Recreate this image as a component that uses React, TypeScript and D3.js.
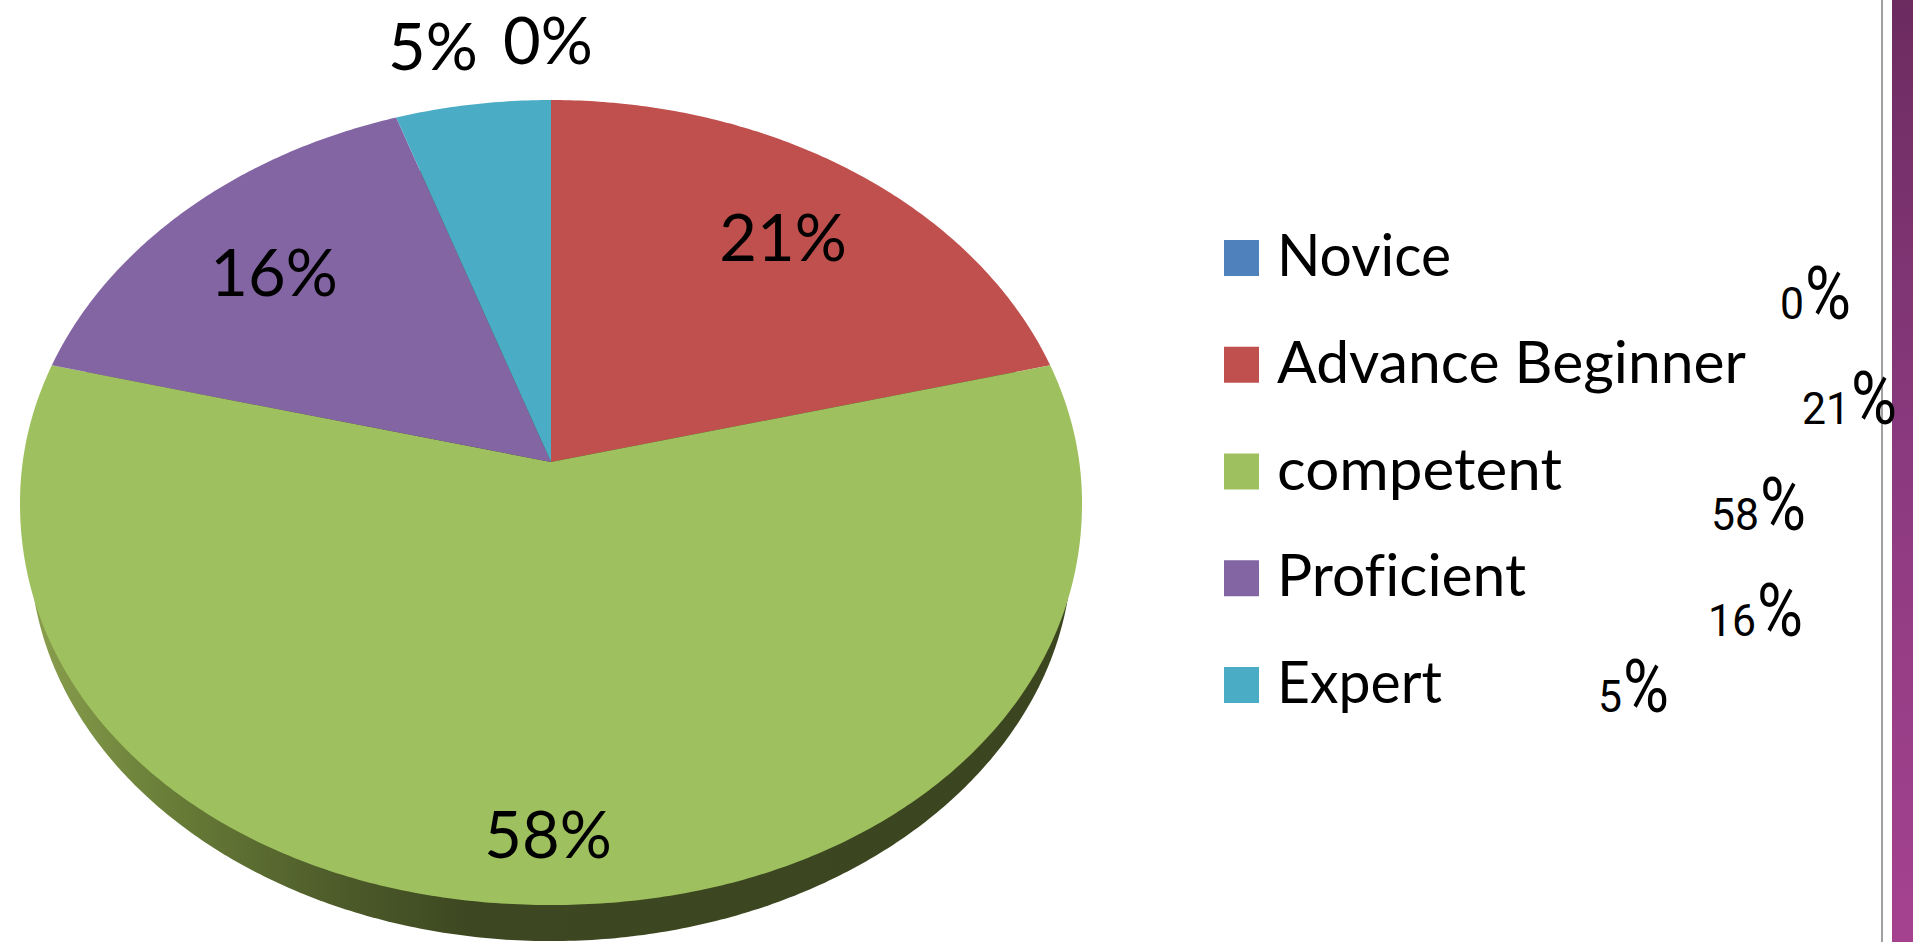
import React from "react";
import * as d3 from "d3";

const categories = ["Novice", "Advance Beginner", "competent", "Proficient", "Expert"];
const shareValues = [0, 21, 58, 15.8, 5.2];
const shareLabels = ["0%", "21%", "58%", "16%", "5%"];
const sliceColors = ["#4f81bd", "#c0504d", "#9fc05e", "#8365a3", "#4bacc6"];

// layout only
const W = 1913, H = 942;
const apex = { x: 551, y: 462 };
const persp = { a: 398.4, b: 528.3, k: -0.1006 };
const outline = { cy: 503, rx: 531, ry: 402, n: 2.05 };
const labelLayout = [
  { x: 548, y: 64 },
  { x: 783, y: 261 },
  { x: 548, y: 858 },
  { x: 274, y: 296 },
  { x: 433, y: 70 },
];
const sideLabelLayout = [
  { x: 1780, y: 319 },
  { x: 1802, y: 424 },
  { x: 1711, y: 530 },
  { x: 1708, y: 636 },
  { x: 1598, y: 712 },
];
const legendWidths = [174, 469, 285, 249, 165];

function project(theta: number, rho = 1): [number, number] {
  const x = Math.sin(theta) * rho, y = -Math.cos(theta) * rho;
  const den = 1 + persp.k * y;
  return [apex.x + (persp.b * x) / den, apex.y + (persp.a * y) / den];
}
// the lower half of the drawn disc is slightly fuller than a true ellipse
function projectTop(theta: number): [number, number] {
  const [px, py] = project(theta);
  if (py <= outline.cy) return [px, py];
  const u = (px - apex.x) / outline.rx, v = (py - outline.cy) / outline.ry;
  const r = Math.pow(Math.pow(Math.abs(u), outline.n) + Math.pow(Math.abs(v), outline.n), 1 / outline.n);
  return [apex.x + (u / r) * outline.rx, outline.cy + (v / r) * outline.ry];
}
function projectRim(theta: number): [number, number] {
  const [px, py] = project(theta);
  return [apex.x + (px - apex.x) * 0.981, 550 + (py - outline.cy) * 0.973];
}

const line = d3.line();
const pieGen = d3.pie<number>().sort(null).startAngle(0).endAngle(2 * Math.PI);
const arcs = pieGen(shareValues);

function slicePath(a0: number, a1: number) {
  const n = Math.max(2, Math.ceil((a1 - a0) / 0.01));
  const pts = d3.range(n + 1).map((i) => projectTop(a0 + ((a1 - a0) * i) / n));
  return line([[apex.x, apex.y], ...pts]) + "Z";
}
const rimPath = line(d3.range(0, 2 * Math.PI, 0.01).map(projectRim)) + "Z";

const legendY = d3.scalePoint<string>().domain(categories).range([258, 685]);

export default function App() {
  return (
    <svg width={W} height={H} viewBox={`0 0 ${W} ${H}`} style={{ position: "fixed", left: 0, top: 0, display: "block", background: "#fff" }}>
      <defs>
        <linearGradient id="rim" gradientUnits="userSpaceOnUse" x1="30" x2="1080" y1="0" y2="0">
          <stop offset="0" stopColor="#8aa04e" />
          <stop offset="0.12" stopColor="#6b8039" />
          <stop offset="0.28" stopColor="#4f5e2b" />
          <stop offset="0.42" stopColor="#3d4721" />
          <stop offset="1" stopColor="#3b4621" />
        </linearGradient>
        <linearGradient id="side" x1="0" x2="0" y1="0" y2="1">
          <stop offset="0" stopColor="#6c2c60" />
          <stop offset="0.5" stopColor="#8c3a80" />
          <stop offset="1" stopColor="#a5428f" />
        </linearGradient>
      </defs>

      <rect x={1892} y={0} width={21} height={H} fill="url(#side)" />
      <rect x={1881} y={0} width={2} height={H} fill="#a0a0a0" />

      <path d={rimPath} fill="url(#rim)" />
      {arcs.map((d, i) =>
        d.endAngle > d.startAngle ? (
          <path key={i} d={slicePath(d.startAngle, d.endAngle)} fill={sliceColors[i]} />
        ) : null
      )}

      <g fontFamily="Lato" fontSize={65} fill="#000" textAnchor="middle">
        {shareLabels.map((t, i) => (
          <text key={i} x={labelLayout[i].x} y={labelLayout[i].y}>{t}</text>
        ))}
      </g>

      <g fontFamily="Lato" fontSize={58} fill="#000" style={{ fontVariantLigatures: "none" }}>
        {categories.map((c, i) => {
          const cy = legendY(c)!;
          return (
            <g key={c}>
              <rect x={1224} y={cy - 18} width={35} height={36} fill={sliceColors[i]} />
              <text x={1277} y={cy + 18} textLength={legendWidths[i]} lengthAdjust="spacingAndGlyphs">{c}</text>
            </g>
          );
        })}
      </g>

      <g fill="#000">
        {shareLabels.map((t, i) => {
          const num = t.slice(0, -1);
          return (
            <text key={i} x={sideLabelLayout[i].x} y={sideLabelLayout[i].y}>
              <tspan fontFamily="Roboto" fontSize={45} textLength={num.length * 24} lengthAdjust="spacingAndGlyphs">{num}</tspan>
              <tspan fontFamily="Roboto" fontSize={75} dx={1} textLength={46} lengthAdjust="spacingAndGlyphs">%</tspan>
            </text>
          );
        })}
      </g>
    </svg>
  );
}
